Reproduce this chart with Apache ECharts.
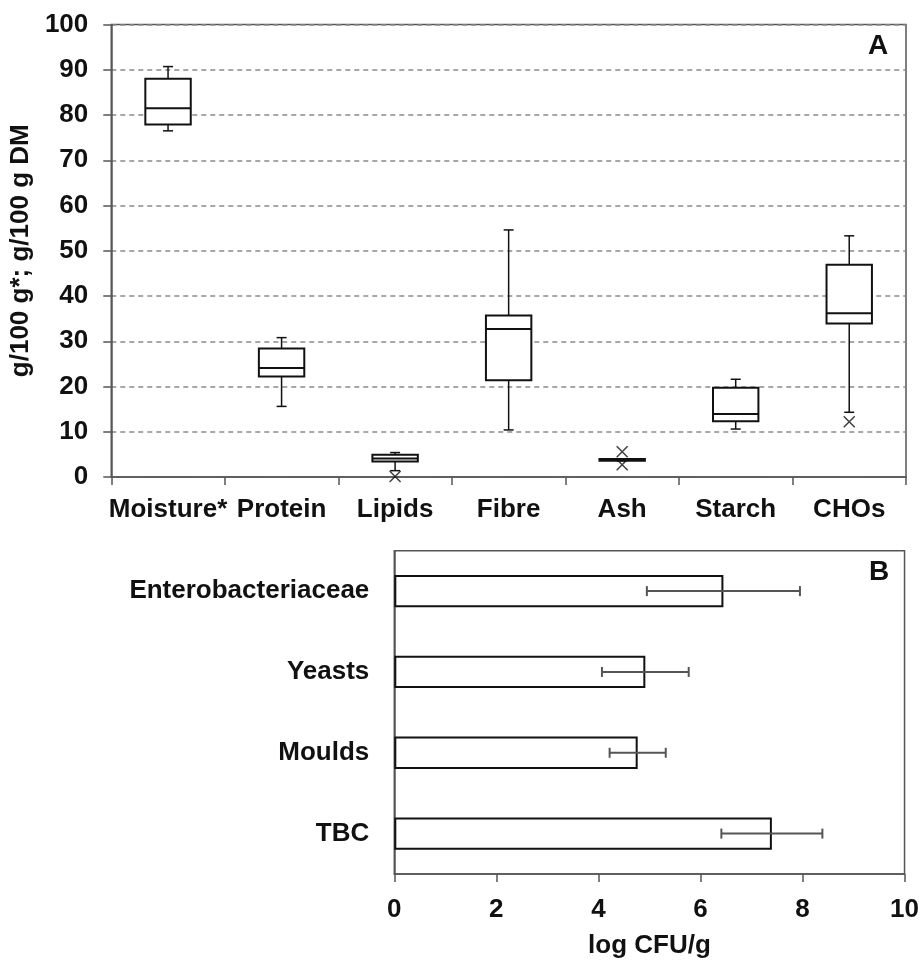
<!DOCTYPE html>
<html><head><meta charset="utf-8">
<script src="https://cdn.jsdelivr.net/npm/echarts@6/dist/echarts.min.js"></script>
<style>html,body{margin:0;padding:0;background:#fff}#c{width:922px;height:960px}</style>
</head><body><div id="c"></div>
<script>
// Panel A: proximate composition (box plots)
const compCategories = ['Moisture*', 'Protein', 'Lipids', 'Fibre', 'Ash', 'Starch', 'CHOs'];
const compMin    = [76.5, 15.6, 1.4, 10.4, 3.6, 10.6, 14.3];
const compQ1     = [77.9, 22.2, 3.4, 21.4, 3.6, 12.3, 33.9];
const compMedian = [81.5, 24.1, 4.1, 32.7, 3.8, 13.9, 36.2];
const compQ3     = [88.0, 28.4, 4.9, 35.7, 4.0, 19.7, 46.9];
const compMax    = [90.7, 30.8, 5.4, 54.6, 4.0, 21.6, 53.3];
const outlierCategory = ['Lipids', 'Ash', 'Ash', 'CHOs'];
const outlierValue    = [0.1, 5.6, 2.7, 12.2];
const compAxisMin = 0, compAxisMax = 100, compAxisStep = 10;

// Panel B: microbial counts (bars with error bars)
const microCategories = ['TBC', 'Moulds', 'Yeasts', 'Enterobacteriaceae'];
const microMean = [7.40, 4.77, 4.92, 6.45];
const microSD   = [0.99, 0.55, 0.85, 1.50];
const microAxisMin = 0, microAxisMax = 10, microAxisStep = 2;

const FONT = "'Liberation Sans', Arial, Helvetica, sans-serif";
const AX = '#555';
const INK = '#111';

const chart = echarts.init(document.getElementById('c'), null, {renderer: 'canvas'});

function renderBox(params, api) {
  const i = api.value(0);
  const pMin = api.coord([i, api.value(1)]);
  const pQ1 = api.coord([i, api.value(2)]);
  const pMed = api.coord([i, api.value(3)]);
  const pQ3 = api.coord([i, api.value(4)]);
  const pMax = api.coord([i, api.value(5)]);
  const bw = api.size([1, 0])[0] * 0.4;
  const cap = 10;
  const x = pMed[0];
  const w = {stroke: INK, lineWidth: 1.5, fill: null};
  return {
    type: 'group',
    children: [
      {type: 'line', shape: {x1: x, y1: pQ3[1], x2: x, y2: pMax[1]}, style: w},
      {type: 'line', shape: {x1: x - cap / 2, y1: pMax[1], x2: x + cap / 2, y2: pMax[1]}, style: w},
      {type: 'line', shape: {x1: x, y1: pQ1[1], x2: x, y2: pMin[1]}, style: w},
      {type: 'line', shape: {x1: x - cap / 2, y1: pMin[1], x2: x + cap / 2, y2: pMin[1]}, style: w},
      {type: 'rect', shape: {x: x - bw / 2, y: pQ3[1], width: bw, height: pQ1[1] - pQ3[1]},
        style: {fill: '#fff', stroke: INK, lineWidth: 2}},
      {type: 'line', shape: {x1: x - bw / 2, y1: pMed[1], x2: x + bw / 2, y2: pMed[1]},
        style: {stroke: INK, lineWidth: 2}}
    ]
  };
}

function renderErr(params, api) {
  const i = api.value(0);
  const pLo = api.coord([api.value(1), i]);
  const pHi = api.coord([api.value(2), i]);
  const cap = 10;
  const y = pLo[1];
  const s = {stroke: '#555', lineWidth: 2};
  return {
    type: 'group',
    children: [
      {type: 'line', shape: {x1: pLo[0], y1: y, x2: pHi[0], y2: y}, style: s},
      {type: 'line', shape: {x1: pLo[0], y1: y - cap / 2, x2: pLo[0], y2: y + cap / 2}, style: s},
      {type: 'line', shape: {x1: pHi[0], y1: y - cap / 2, x2: pHi[0], y2: y + cap / 2}, style: s}
    ]
  };
}

const labelStyle = {fontFamily: FONT, fontWeight: 'bold', fontSize: 26, color: INK};

const option = {
  backgroundColor: '#fff',
  animation: false,
  textStyle: {fontFamily: FONT},
  grid: [
    {left: 111, top: 24.5, width: 795, height: 452.5, show: true, borderColor: AX, borderWidth: 1.5, containLabel: false},
    {left: 394.3, top: 550.7, width: 512.5, height: 324.6, show: true, borderColor: AX, borderWidth: 1.5, containLabel: false}
  ],
  xAxis: [
    {
      type: 'category', gridIndex: 0, data: compCategories,
      axisLine: {lineStyle: {color: AX, width: 1.5}},
      axisTick: {show: true, length: 8, lineStyle: {color: AX, width: 1.5}},
      axisLabel: Object.assign({interval: 0, margin: 20}, labelStyle),
      splitLine: {show: false}
    },
    {
      type: 'value', gridIndex: 1, min: microAxisMin, max: microAxisMax, interval: microAxisStep,
      axisLine: {show: true, lineStyle: {color: AX, width: 1.5}},
      axisTick: {show: true, length: 8, lineStyle: {color: AX, width: 1.5}},
      axisLabel: Object.assign({margin: 23}, labelStyle),
      splitLine: {show: false},
      name: 'log CFU/g', nameLocation: 'middle', nameGap: 59,
      nameTextStyle: {fontFamily: FONT, fontWeight: 'bold', fontSize: 26, color: INK}
    }
  ],
  yAxis: [
    {
      type: 'value', gridIndex: 0, min: compAxisMin, max: compAxisMax, interval: compAxisStep,
      axisLine: {show: true, lineStyle: {color: AX, width: 1.5}},
      axisTick: {show: true, length: 8, lineStyle: {color: AX, width: 1.5}},
      axisLabel: Object.assign({margin: 23}, labelStyle),
      splitLine: {show: true, lineStyle: {color: '#8a8a8a', width: 1.5, type: [5, 4]}},
      name: 'g/100 g*; g/100 g DM', nameLocation: 'middle', nameGap: 70, nameRotate: 90,
      nameTextStyle: {fontFamily: FONT, fontWeight: 'bold', fontSize: 26, color: INK}
    },
    {
      type: 'category', gridIndex: 1, data: microCategories,
      axisLine: {show: true, lineStyle: {color: AX, width: 1.5}},
      axisTick: {show: false},
      axisLabel: Object.assign({interval: 0, margin: 25}, labelStyle),
      splitLine: {show: false}
    }
  ],
  series: [
    {
      type: 'custom', name: 'composition', xAxisIndex: 0, yAxisIndex: 0,
      renderItem: renderBox,
      encode: {x: 0, y: [1, 2, 3, 4, 5]},
      data: compCategories.map((c, i) => [i, compMin[i], compQ1[i], compMedian[i], compQ3[i], compMax[i]]),
      z: 3
    },
    {
      type: 'scatter', name: 'outliers', xAxisIndex: 0, yAxisIndex: 0,
      symbol: 'path://M0,0L10,10M10,0L0,10', symbolSize: 11,
      itemStyle: {color: 'none', borderColor: INK, borderWidth: 1.5},
      data: outlierCategory.map((c, k) => [c, outlierValue[k]]),
      z: 4
    },
    {
      type: 'bar', name: 'counts', xAxisIndex: 1, yAxisIndex: 1,
      barWidth: '40%', data: microMean,
      itemStyle: {color: '#fff', borderColor: INK, borderWidth: 2},
      z: 2
    },
    {
      type: 'custom', name: 'sd', xAxisIndex: 1, yAxisIndex: 1,
      renderItem: renderErr,
      encode: {x: [1, 2], y: 0},
      data: microCategories.map((c, i) => [i, microMean[i] - microSD[i], microMean[i] + microSD[i]]),
      z: 5
    }
  ],
  graphic: [
    {type: 'text', x: 878, y: 46, style: {text: 'A', fontFamily: FONT, fontWeight: 'bold', fontSize: 28, fill: INK, align: 'center', verticalAlign: 'middle'}},
    {type: 'text', x: 879, y: 572, style: {text: 'B', fontFamily: FONT, fontWeight: 'bold', fontSize: 28, fill: INK, align: 'center', verticalAlign: 'middle'}}
  ]
};
chart.setOption(option);
</script>
</body></html>
